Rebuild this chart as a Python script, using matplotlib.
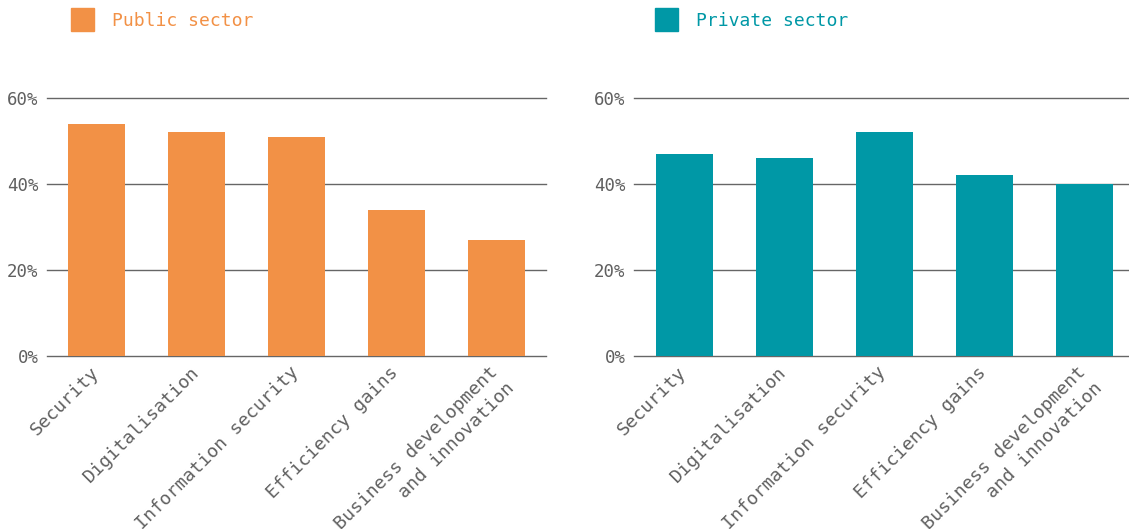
import matplotlib
matplotlib.use('Agg')
import matplotlib.pyplot as plt
import matplotlib.transforms as mtransforms
from matplotlib.patches import Rectangle

plt.rcParams['font.family'] = ['DejaVu Sans Mono']

categories = ['Security', 'Digitalisation', 'Information security',
              'Efficiency gains', 'Business development\nand innovation']
public_values = [54, 52, 51, 34, 27]
private_values = [47, 46, 52, 42, 40]
y_ticks = [0, 20, 40, 60]
tick_labels = ['0%', '20%', '40%', '60%']

orange = '#F29146'
teal = '#0098A6'
grid_col = '#666666'
text_col = '#606060'

W, H = 1129, 529
fig = plt.figure(figsize=(W / 100, H / 100), dpi=100)


def panel(left, right, values, color, xmax):
    ax = fig.add_axes([left / W, (H - 356) / H, (right - left) / W, 258 / H])
    ax.bar(range(len(values)), values, width=0.57, color=color, zorder=3)
    ax.set_xlim(-0.5, xmax)
    ax.set_ylim(0, 60)
    ax.set_yticks(y_ticks)
    ax.set_yticklabels(tick_labels)
    ax.grid(axis='y', color=grid_col, linewidth=1, zorder=0)
    ax.set_axisbelow(True)
    for line in ax.get_ygridlines():
        line.set_clip_on(False)
    for s in ax.spines.values():
        s.set_visible(False)
    ax.tick_params(axis='y', length=0, labelsize=12.5, colors=text_col, pad=6)
    ax.tick_params(axis='x', length=0, labelsize=13.2, colors=text_col, pad=5)
    ax.set_xticks(range(len(categories)))
    labels = ax.set_xticklabels(categories, rotation=45, ha='right',
                                rotation_mode='anchor', multialignment='right',
                                linespacing=1.35)
    shift = mtransforms.ScaledTranslation(-7 / 100, 0, fig.dpi_scale_trans)
    for lab in labels:
        lab.set_transform(lab.get_transform() + shift)
    return ax


panel(47, 546, public_values, orange, 4.5)
panel(634, 1129, private_values, teal, 4.45)

# legend squares and labels
for x0, color, label in [(71, orange, 'Public sector'), (655, teal, 'Private sector')]:
    fig.patches.append(Rectangle((x0 / W, (H - 31) / H), 23 / W, 23 / H,
                                 transform=fig.transFigure, color=color))
    fig.text((x0 + 41) / W, (H - 21) / H, label, color=color,
             fontsize=13, va='center', ha='left')

fig.savefig('out.png', dpi=100)
